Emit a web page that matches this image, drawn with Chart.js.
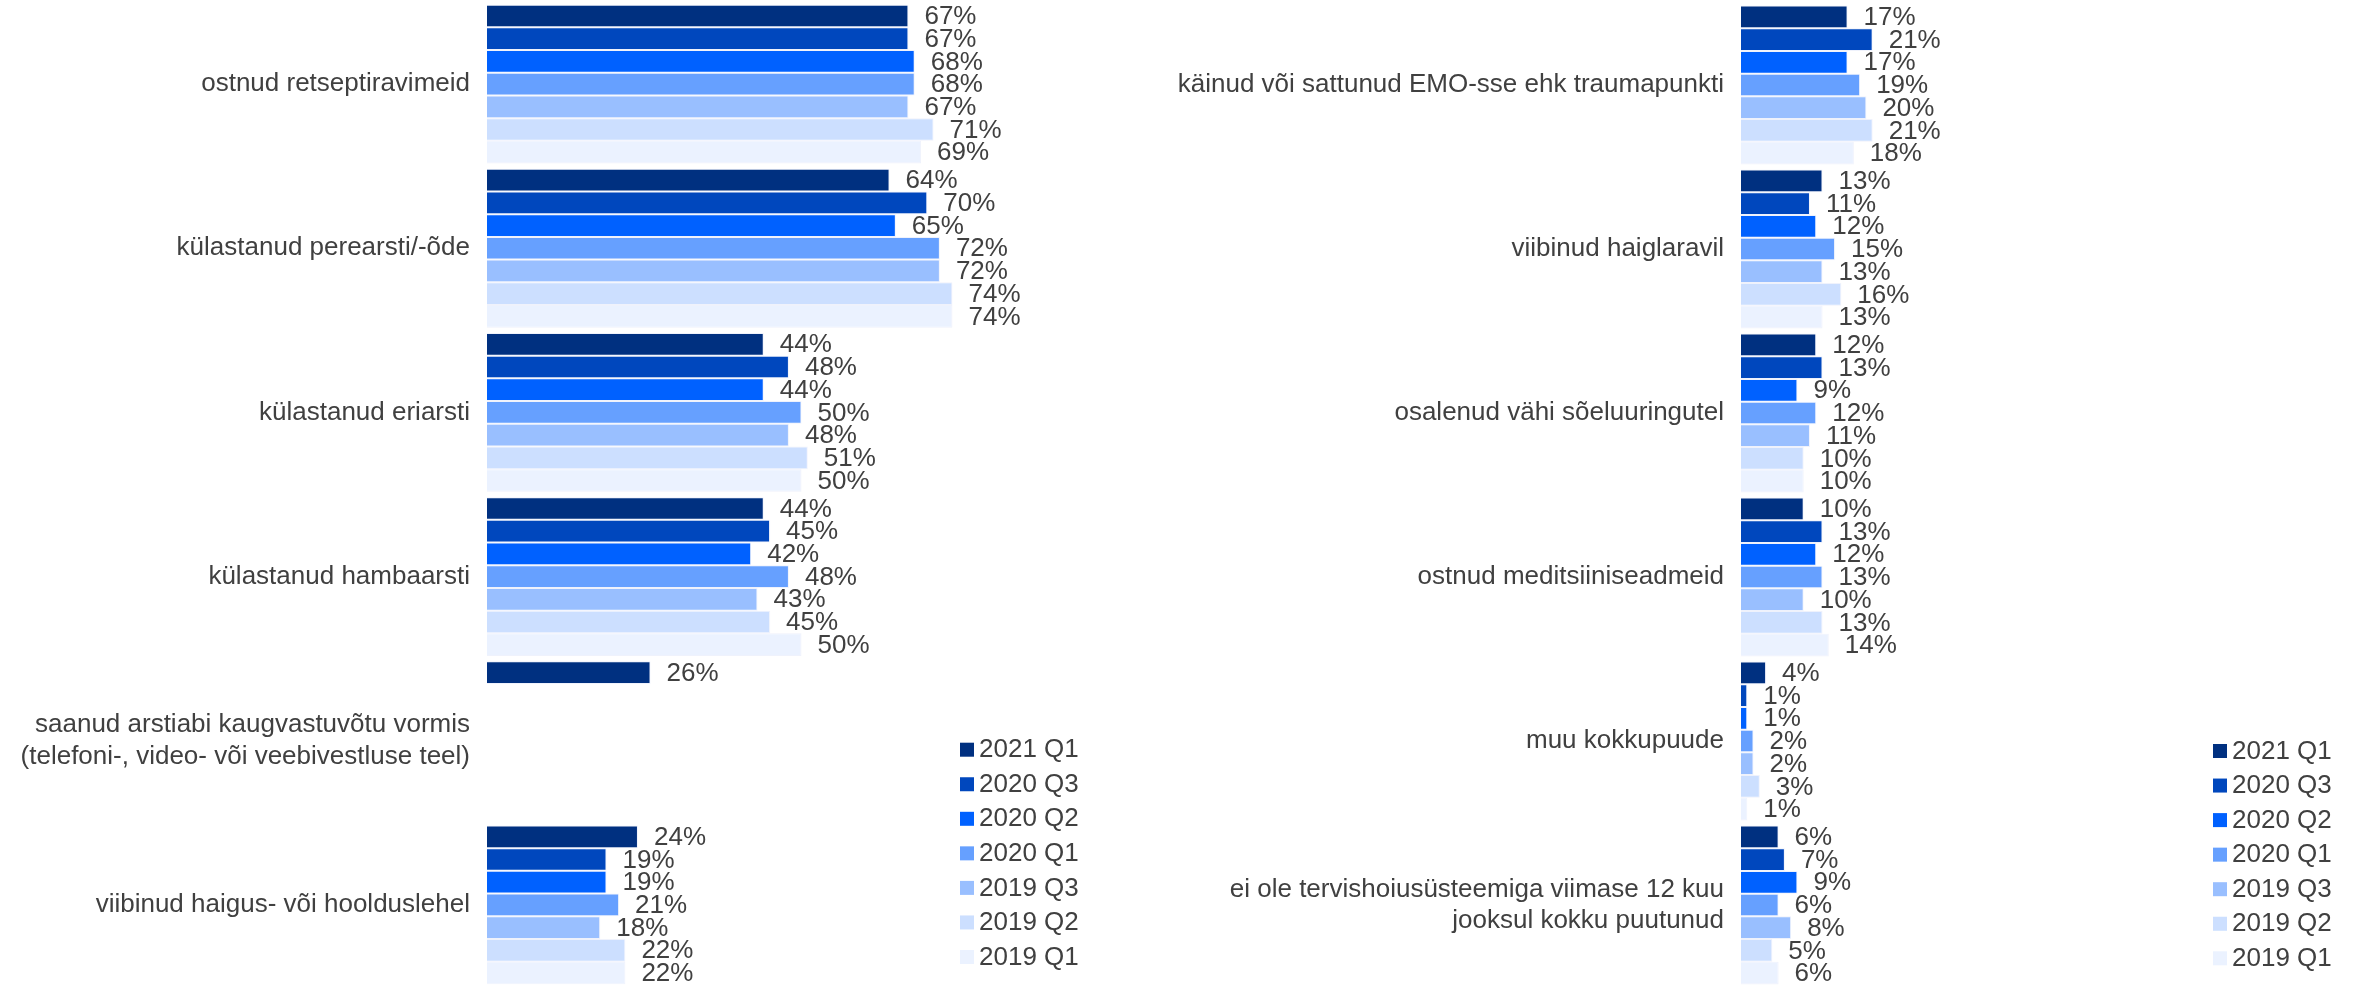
<!DOCTYPE html>
<html>
<head>
<meta charset="utf-8">
<script src="https://cdn.jsdelivr.net/npm/chart.js@4.4.1/dist/chart.umd.min.js"></script>
<style>
  html, body { margin: 0; padding: 0; background: #ffffff; overflow: hidden; }
  #wrapL { position: absolute; left: 0; top: 0; width: 1150px; height: 987px; }
  #wrapR { position: absolute; left: 1150px; top: 0; width: 1211px; height: 987px; }
</style>
</head>
<body>
<div id="wrapL"><canvas id="chartL"></canvas></div>
<div id="wrapR"><canvas id="chartR"></canvas></div>
<script>
// ---- Data ----
const seriesLabels = ["2021 Q1", "2020 Q3", "2020 Q2", "2020 Q1", "2019 Q3", "2019 Q2", "2019 Q1"];
const seriesColors = ["#003080", "#0047BD", "#0061FF", "#66A0FF", "#99BFFF", "#CCDFFF", "#EBF2FF"];

const leftCategories = [
  "ostnud retseptiravimeid",
  "külastanud perearsti/-õde",
  "külastanud eriarsti",
  "külastanud hambaarsti",
  ["saanud arstiabi kaugvastuvõtu vormis", "(telefoni-, video- või veebivestluse teel)"],
  "viibinud haigus- või hoolduslehel"
];
// values per series, in category order
const left2021Q1 = [67, 64, 44, 44, 26, 24];
const left2020Q3 = [67, 70, 48, 45, null, 19];
const left2020Q2 = [68, 65, 44, 42, null, 19];
const left2020Q1 = [68, 72, 50, 48, null, 21];
const left2019Q3 = [67, 72, 48, 43, null, 18];
const left2019Q2 = [71, 74, 51, 45, null, 22];
const left2019Q1 = [69, 74, 50, 50, null, 22];

const rightCategories = [
  "käinud või sattunud EMO-sse ehk traumapunkti",
  "viibinud haiglaravil",
  "osalenud vähi sõeluuringutel",
  "ostnud meditsiiniseadmeid",
  "muu kokkupuude",
  ["ei ole tervishoiusüsteemiga viimase 12 kuu", "jooksul kokku puutunud"]
];
const right2021Q1 = [17, 13, 12, 10, 4, 6];
const right2020Q3 = [21, 11, 13, 13, 1, 7];
const right2020Q2 = [17, 12, 9, 12, 1, 9];
const right2020Q1 = [19, 15, 12, 13, 2, 6];
const right2019Q3 = [20, 13, 11, 10, 2, 8];
const right2019Q2 = [21, 16, 10, 13, 3, 5];
const right2019Q1 = [18, 13, 10, 14, 1, 6];

const leftSeries = [left2021Q1, left2020Q3, left2020Q2, left2020Q1, left2019Q3, left2019Q2, left2019Q1];
const rightSeries = [right2021Q1, right2020Q3, right2020Q2, right2020Q1, right2019Q3, right2019Q2, right2019Q1];

const FONT = "'Liberation Sans', Arial, sans-serif";
const TEXT = "#404040";

// value labels at bar ends
const valueLabels = {
  id: 'valueLabels',
  afterDatasetsDraw(chart) {
    const ctx = chart.ctx;
    ctx.save();
    ctx.font = "26px " + FONT;
    ctx.fillStyle = TEXT;
    ctx.textAlign = 'left';
    ctx.textBaseline = 'middle';
    chart.data.datasets.forEach((ds, di) => {
      const meta = chart.getDatasetMeta(di);
      meta.data.forEach((bar, i) => {
        const v = ds.data[i];
        if (v === null || v === undefined) return;
        ctx.fillText(v + "%", bar.x + 16, bar.y + 1);
      });
    });
    ctx.restore();
  }
};

// legend drawn at fixed spot inside each canvas
function makeLegend(x0, y0) {
  return {
    id: 'customLegend',
    afterDraw(chart) {
      const ctx = chart.ctx;
      ctx.save();
      ctx.font = "26px " + FONT;
      ctx.textAlign = 'left';
      ctx.textBaseline = 'middle';
      chart.data.datasets.forEach((ds, i) => {
        const y = y0 + i * 34.55;
        ctx.fillStyle = ds.backgroundColor;
        ctx.fillRect(x0, y, 14, 14);
        ctx.fillStyle = TEXT;
        ctx.fillText(ds.label, x0 + 19, y + 7.5);
      });
      ctx.restore();
    }
  };
}

function buildChart(canvasId, categories, series, axisWidth, xMax, padRight, padTop, legendPos) {
  const datasets = series.map((vals, i) => ({
    label: seriesLabels[i],
    data: vals,
    backgroundColor: seriesColors[i],
    borderColor: 'rgba(225,232,250,0.55)',
    borderWidth: 1,
    categoryPercentage: 0.968,
    barPercentage: 1.0
  }));
  return new Chart(document.getElementById(canvasId), {
    type: 'bar',
    data: { labels: categories, datasets },
    options: {
      indexAxis: 'y',
      responsive: true,
      maintainAspectRatio: false,
      animation: false,
      layout: { padding: { top: padTop, bottom: 0, left: 0, right: padRight } },
      plugins: { legend: { display: false }, tooltip: { enabled: false } },
      scales: {
        x: { display: false, min: 0, max: xMax },
        y: {
          grid: { display: false, drawTicks: false },
          border: { display: false },
          ticks: {
            color: TEXT,
            font: { family: FONT, size: 26, lineHeight: 1.2 },
            padding: 17,
            crossAlign: 'near'
          },
          afterFit(scale) {
            scale.width = axisWidth;
            scale.paddingTop = 0;
            scale.paddingBottom = 0;
          }
        }
      }
    },
    plugins: [valueLabels, makeLegend(legendPos[0], legendPos[1])]
  });
}

buildChart('chartL', leftCategories, leftSeries, 487, 100, 1150 - 487 - 629, 2, [960, 742.7]);
buildChart('chartR', rightCategories, rightSeries, 591, 50, 1211 - 591 - 313.5, 3, [1063, 744]);
</script>
</body>
</html>
